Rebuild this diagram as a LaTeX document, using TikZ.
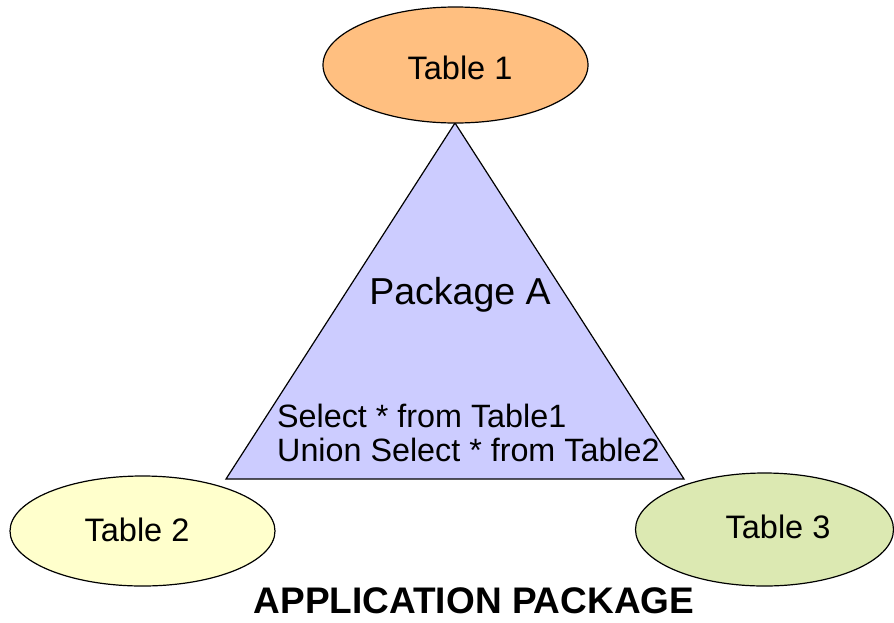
\documentclass[tikz,border=0pt]{standalone}
\usepackage{fontspec}
\setmainfont{Liberation Sans}
\usetikzlibrary{shapes.geometric}
\definecolor{tableorange}{HTML}{FFBF80}
\definecolor{tableyellow}{HTML}{FFFFCC}
\definecolor{tablegreen}{HTML}{DCE9B2}
\definecolor{pkgblue}{HTML}{CCCCFF}
\begin{document}
\begin{tikzpicture}[x=1pt,y=-1pt,
  tablenode/.style={draw=black,line width=1.2pt,ellipse},
  tablelabel/.style={font=\fontsize{32.5}{36}\selectfont}]
\useasboundingbox (0,0) rectangle (894,622);
% package triangle
\coordinate (apex) at (455,123);
\coordinate (bl) at (226,479);
\coordinate (br) at (684,479);
\filldraw[fill=pkgblue,draw=black,line width=1.2pt,line join=miter] (apex) -- (br) -- (bl) -- cycle;
\node[font=\fontsize{37.5}{42}\selectfont] (pkg) at (460,295) {Package A};
\node[anchor=west,align=left,inner xsep=0pt,font=\fontsize{32.3}{34}\selectfont] (sql) at (277,433)
  {Select * from Table1\\Union Select * from Table2};
% tables
\path[tablenode,fill=tableorange] (455.5,65) ellipse [x radius=132.5,y radius=58];
\node[tablelabel] (t1) at (460,68) {Table 1};
\path[tablenode,fill=tableyellow] (142.5,531) ellipse [x radius=132.5,y radius=55];
\node[tablelabel] (t2) at (137,530) {Table 2};
\path[tablenode,fill=tablegreen] (764.5,529.5) ellipse [x radius=129,y radius=56.5];
\node[tablelabel] (t3) at (778,527) {Table 3};
% caption
\node[inner sep=0pt,anchor=base,font=\bfseries\fontsize{37}{42}\selectfont] (cap) at (474,613.5) {APPLICATION PACKAGE};
\end{tikzpicture}
\end{document}
